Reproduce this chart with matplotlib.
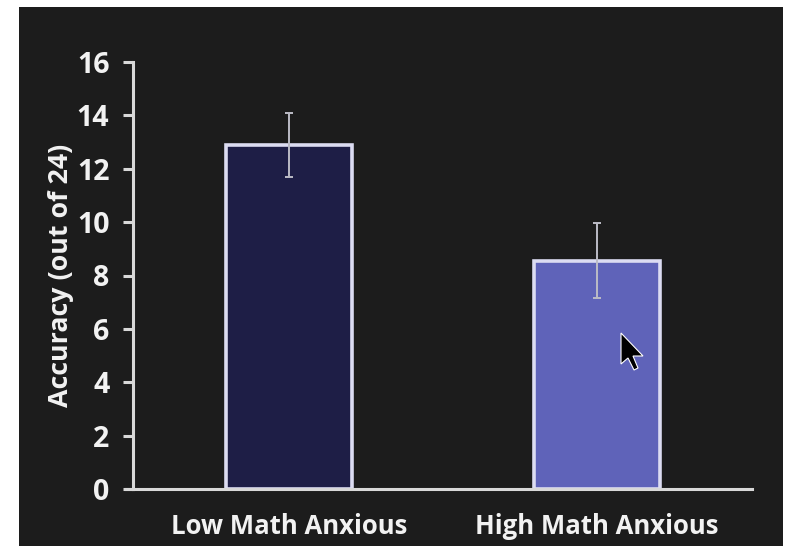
import matplotlib
matplotlib.use("Agg")
import matplotlib.pyplot as plt
from matplotlib.patches import Polygon, Rectangle
from matplotlib.lines import Line2D

# Data
groups = ["Low Math Anxious", "High Math Anxious"]
accuracy = [12.9, 8.55]
error = [1.2, 1.4]
bar_colors = ["#1e1e46", "#5f63b9"]
yticks = [0, 2, 4, 6, 8, 10, 12, 14, 16]
ylabel = "Accuracy (out of 24)"

BG = "#1c1c1c"
FG = "#f2f2f2"
plt.rcParams["font.family"] = ["Open Sans", "DejaVu Sans"]

W, H = 787, 546
fig = plt.figure(figsize=(W / 100, H / 100), dpi=100, facecolor="white")

# dark panel with a thin white margin on the left/top/right
fig.patches.append(Rectangle((19 / W, 0), (783 - 19) / W, 1 - 7 / H,
                             transform=fig.transFigure, facecolor=BG,
                             edgecolor="none", zorder=-5))

ax_l, ax_r = 133, 752
ax_t, ax_b = 62, 489
ax = fig.add_axes([ax_l / W, 1 - ax_b / H, (ax_r - ax_l) / W, (ax_b - ax_t) / H])
ax.set_facecolor("none")
ax.set_zorder(2)

x = range(len(groups))
ax.bar(x, accuracy, width=0.41, color=bar_colors, edgecolor="#dcdcf2",
       linewidth=2.6, zorder=2)
ax.errorbar(x, accuracy, yerr=error, fmt="none", ecolor="#bcbcc6",
            elinewidth=1.4, capsize=2.6, capthick=1.4, zorder=3)

ax.set_xlim(-0.506, 1.503)
ax.set_ylim(0, 16)
ax.set_yticks(yticks)
ax.set_xticks(list(x))
ax.set_xticklabels(groups)

for s in ["top", "right"]:
    ax.spines[s].set_visible(False)
for s in ["left", "bottom"]:
    ax.spines[s].set_color("#d8d8d8")
    ax.spines[s].set_linewidth(2.2)

ax.tick_params(axis="y", colors="#d8d8d8", length=7, width=2.2,
               labelcolor=FG, labelsize=20.5, pad=10)
ax.tick_params(axis="x", length=0, labelcolor=FG, labelsize=18.5, pad=17)
for lab in ax.get_xticklabels() + ax.get_yticklabels():
    lab.set_fontweight("bold")

# bottom axis line runs out under the y tick marks
fig.add_artist(Line2D([126 / W, ax_l / W], [1 - ax_b / H, 1 - ax_b / H],
                      color="#d8d8d8", linewidth=2.2, transform=fig.transFigure,
                      zorder=3))

fig.text(61 / W, 1 - 275 / H, ylabel, rotation=90, ha="center", va="center",
         color=FG, fontsize=19.3, fontweight="bold", zorder=3)

# mouse pointer
tip = (621, 333)
pts = [(0, 0), (0, 31), (7, 25), (13, 37), (17, 35), (12, 23), (22, 23)]
cursor = Polygon([((tip[0] + px) / W, 1 - (tip[1] + py) / H) for px, py in pts],
                 closed=True, facecolor="black", edgecolor="white",
                 linewidth=0.8, transform=fig.transFigure, zorder=10)
fig.add_artist(cursor)

fig.savefig("out.png", dpi=100, facecolor="white")
